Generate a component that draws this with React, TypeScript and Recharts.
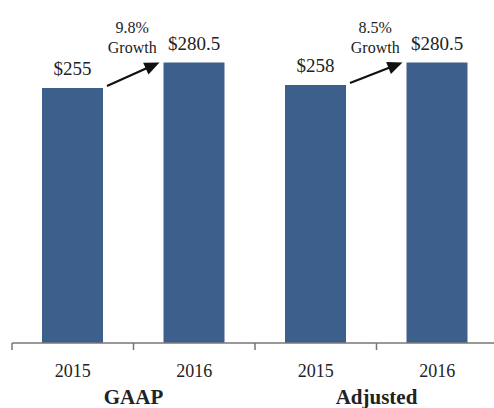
import React from 'react';
import { BarChart, Bar, XAxis, YAxis, LabelList } from 'recharts';

const years = ['2015', '2016', '2015', '2016'];
const groups = ['GAAP', '', 'Adjusted', ''];
const values = [255, 280.5, 258, 280.5];
const growth = ['', '9.8%', '', '8.5%'];

const data = years.map((year, i) => ({
  id: i,
  year,
  group: groups[i],
  value: values[i],
  growth: growth[i],
}));

const W = 498;
const H = 408;
const LEFT = 12;
const BAND = (W - LEFT) / years.length;
const FONT = '"Liberation Serif", "Times New Roman", serif';
const BLUE = '#3c5f8c';
const TEXT = '#222';

const BarWithArrow = (props: any) => {
  const { x, y, width, height, index } = props;
  const items: React.ReactNode[] = [
    <rect key="r" x={x} y={y} width={width} height={height} fill={BLUE} />,
  ];
  const g = growth[index];
  if (g && index > 0) {
    const base = y + height;
    const prevTop = base - (values[index - 1] * height) / values[index];
    const prevRight = x - BAND + width;
    const sx = prevRight + 4;
    const sy = prevTop - 2;
    const ex = x - 4;
    const ey = y;
    const dx = ex - sx;
    const dy = ey - sy;
    const len = Math.sqrt(dx * dx + dy * dy);
    const ux = dx / len;
    const uy = dy / len;
    const head = 15;
    const hw = 6.5;
    const bx = ex - ux * head;
    const by = ey - uy * head;
    items.push(
      <line key="l" x1={sx} y1={sy} x2={bx + ux * 2} y2={by + uy * 2} stroke="#111" strokeWidth={2.2} />,
      <polygon
        key="p"
        points={`${ex},${ey} ${bx - uy * hw},${by + ux * hw} ${bx + uy * hw},${by - ux * hw}`}
        fill="#111"
      />,
      <text key="t1" x={(prevRight + x) / 2 - 1} y={y - 30} textAnchor="middle" fontFamily={FONT} fontSize={16} fill={TEXT}>
        {g}
      </text>,
      <text key="t2" x={(prevRight + x) / 2 - 1} y={y - 10} textAnchor="middle" fontFamily={FONT} fontSize={16} fill={TEXT}>
        Growth
      </text>
    );
  }
  return <g>{items}</g>;
};

const ValueLabel = (props: any) => {
  const { x, y, width, value } = props;
  return (
    <text x={x + width / 2} y={y - 13} textAnchor="middle" fontFamily={FONT} fontSize={19} fill={TEXT}>
      {`$${value}`}
    </text>
  );
};

const Tick = (props: any) => {
  const { x, y, index } = props;
  const grp = groups[index];
  return (
    <g>
      <line x1={x - BAND / 2} y1={y} x2={x - BAND / 2} y2={y + 7} stroke="#777" strokeWidth={1.5} />
      <text x={x} y={y + 34} textAnchor="middle" fontFamily={FONT} fontSize={18} fill={TEXT}>
        {years[index]}
      </text>
      {grp && (
        <text x={x + BAND / 2} y={y + 61} textAnchor="middle" fontFamily={FONT} fontSize={21} fontWeight="bold" fill={TEXT}>
          {grp}
        </text>
      )}
    </g>
  );
};

export default function App() {
  return (
    <div style={{ position: 'absolute', left: 0, top: 0, width: 494, height: 408, overflow: 'hidden', background: '#fff' }}>
      <BarChart width={W} height={H} data={data} margin={{ top: 43, right: 0, left: LEFT, bottom: 5 }}>
        <XAxis
          dataKey="id"
          height={60}
          tickSize={0}
          tickMargin={0}
          tickLine={false}
          axisLine={{ stroke: '#777', strokeWidth: 1.5 }}
          tick={<Tick />}
          interval={0}
        />
        <YAxis hide domain={[0, 300]} />
        <Bar dataKey="value" barSize={61} fill={BLUE} shape={<BarWithArrow />} isAnimationActive={false}>
          <LabelList dataKey="value" content={<ValueLabel />} />
        </Bar>
      </BarChart>
    </div>
  );
}
